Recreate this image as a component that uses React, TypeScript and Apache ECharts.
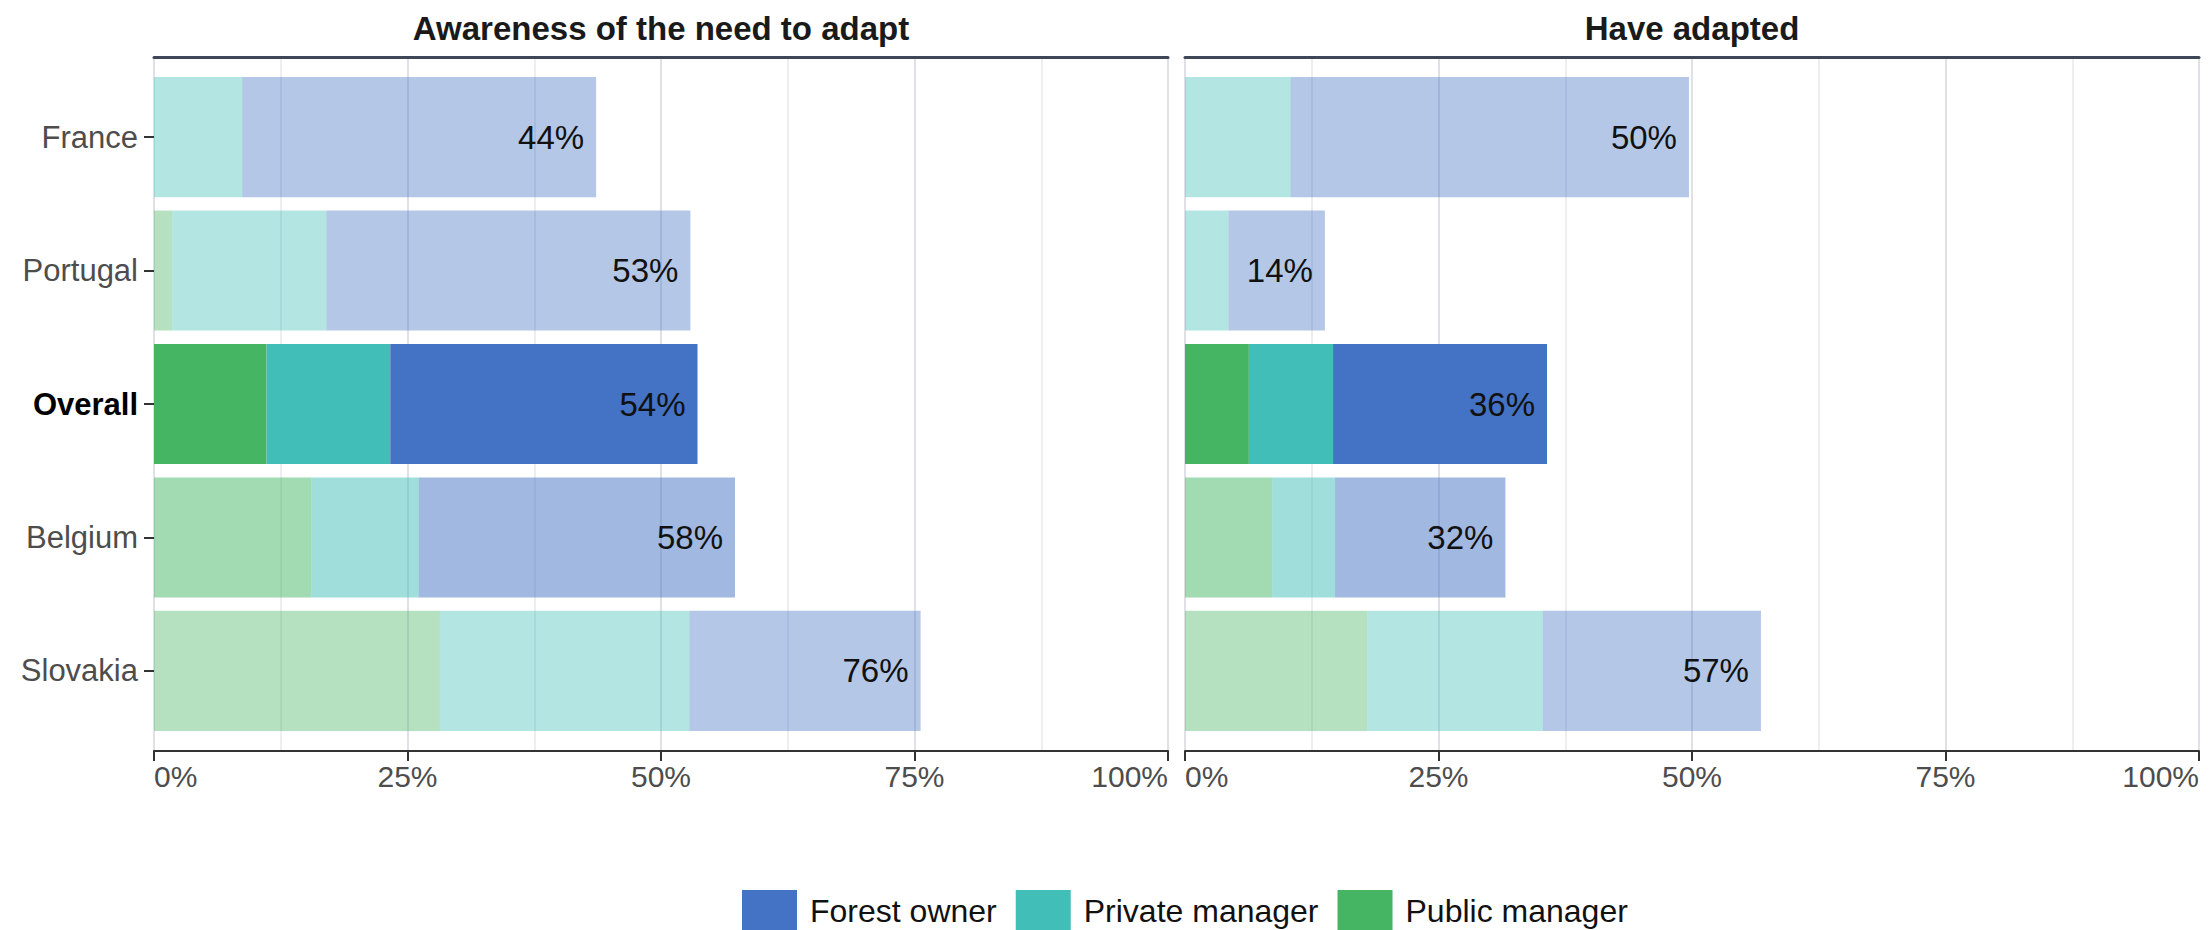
import React, { useEffect, useRef } from "react";
import * as echarts from "echarts";

const countries = ["France", "Portugal", "Overall", "Belgium", "Slovakia"];
const seriesNames = ["Forest owner", "Private manager", "Public manager"];

const awarenessPublic = [0, 1.8, 11.1, 15.5, 28.2];
const awarenessPrivate = [8.7, 15.2, 12.2, 10.6, 24.6];
const awarenessOwner = [34.9, 35.9, 30.3, 31.2, 22.8];
const awarenessLabels = ["44%", "53%", "54%", "58%", "76%"];

const adaptedPublic = [0, 0, 6.3, 8.6, 18.0];
const adaptedPrivate = [10.4, 4.3, 8.3, 6.2, 17.3];
const adaptedOwner = [39.3, 9.5, 21.1, 16.8, 21.5];
const adaptedLabels = ["50%", "14%", "36%", "32%", "57%"];

const xTicks = [0, 25, 50, 75, 100];
const panelTitles = ["Awareness of the need to adapt", "Have adapted"];

// styles
const rowOpacity = [0.4, 0.4, 1, 0.5, 0.4];
const COLORS: Record<string, [number, number, number]> = {
  "Forest owner": [68, 114, 196],
  "Private manager": [65, 190, 184],
  "Public manager": [70, 181, 99],
};
const FONT = "Liberation Sans, Arial, Helvetica, sans-serif";
const rgba = (c: [number, number, number], a: number) => `rgba(${c[0]},${c[1]},${c[2]},${a})`;

export default function App() {
  const ref = useRef<HTMLDivElement>(null);
  useEffect(() => {
    if (!ref.current) return;
    const chart = echarts.init(ref.current, undefined, { renderer: "svg" });

    const panelLeft = [154, 1185];
    const panelWidth = 1014;
    const bgTop = 57;
    const bgHeight = 694;
    const unit = bgHeight / 5.2;
    const barTop = bgTop + 0.6 * unit - unit / 2;
    const barHeight = unit * 5;

    const grids: any[] = [];
    const xAxes: any[] = [];
    const yAxes: any[] = [];
    const series: any[] = [];

    const panels = [
      { pub: awarenessPublic, pri: awarenessPrivate, own: awarenessOwner, labels: awarenessLabels, stack: "aw" },
      { pub: adaptedPublic, pri: adaptedPrivate, own: adaptedOwner, labels: adaptedLabels, stack: "ad" },
    ];

    panels.forEach((p, pi) => {
      const bgGrid = grids.length;
      grids.push({ left: panelLeft[pi], top: bgTop, width: panelWidth, height: bgHeight, containLabel: false });
      const barGrid = grids.length;
      grids.push({ left: panelLeft[pi], top: barTop, width: panelWidth, height: barHeight, containLabel: false });

      xAxes.push({
        type: "value",
        gridIndex: bgGrid,
        position: "bottom",
        min: xTicks[0],
        max: xTicks[xTicks.length - 1],
        interval: 25,
        axisLine: { show: true, lineStyle: { color: "#333333", width: 2 } },
        axisTick: { show: true, length: 10, lineStyle: { color: "#333333", width: 2 } },
        axisLabel: {
          show: true,
          margin: 10,
          fontSize: 30,
          fontFamily: FONT,
          color: "#4d4d4d",
          alignMinLabel: "left",
          alignMaxLabel: "right",
          formatter: (v: number) => v + "%",
        },
        splitLine: { show: true, lineStyle: { color: "#dfe1e6", width: 2 } },
        minorTick: { show: false, splitNumber: 2 },
        minorSplitLine: { show: true, lineStyle: { color: "#e6e8ec", width: 1.5 } },
      });
      xAxes.push({
        type: "value",
        gridIndex: bgGrid,
        position: "top",
        min: 0,
        max: 100,
        axisLine: { show: true, lineStyle: { color: "#3e4757", width: 3 } },
        axisTick: { show: false },
        axisLabel: { show: false },
        splitLine: { show: false },
      });
      yAxes.push({ type: "value", gridIndex: bgGrid, show: false, min: 0, max: 1 });

      const barX = xAxes.length;
      xAxes.push({ type: "value", gridIndex: barGrid, show: false, min: 0, max: 100 });
      const barY = yAxes.length;
      yAxes.push({
        type: "category",
        gridIndex: barGrid,
        data: countries,
        inverse: true,
        axisLine: { show: false },
        axisTick: {
          show: pi === 0,
          alignWithLabel: true,
          length: 10,
          lineStyle: { color: "#333333", width: 2 },
        },
        axisLabel: {
          show: pi === 0,
          margin: 16,
          fontSize: 31,
          fontFamily: FONT,
          color: "#4d4d4d",
          formatter: (v: string) => (v === "Overall" ? `{b|${v}}` : v),
          rich: { b: { fontSize: 31, fontFamily: FONT, fontWeight: "bold", color: "#000000" } },
        },
        splitLine: { show: false },
      });

      const mk = (name: string, values: number[], withLabel: boolean) => ({
        name,
        type: "bar",
        stack: p.stack,
        xAxisIndex: barX,
        yAxisIndex: barY,
        barWidth: "90%",
        itemStyle: { color: rgba(COLORS[name], 1) },
        emphasis: { disabled: true },
        data: values.map((v, i) => ({ value: v, itemStyle: { color: rgba(COLORS[name], rowOpacity[i]) } })),
        label: withLabel
          ? {
              show: true,
              position: "insideRight",
              distance: 12,
              fontSize: 33,
              fontFamily: FONT,
              color: "#111111",
              formatter: (prm: any) => p.labels[prm.dataIndex],
            }
          : { show: false },
      });
      series.push(mk("Public manager", p.pub, false));
      series.push(mk("Private manager", p.pri, false));
      series.push(mk("Forest owner", p.own, true));
    });

    chart.setOption({
      animation: false,
      backgroundColor: "#ffffff",
      grid: grids,
      xAxis: xAxes,
      yAxis: yAxes,
      series,
      legend: {
        data: seriesNames,
        top: 885,
        left: 737,
        icon: "rect",
        itemWidth: 55,
        itemHeight: 42,
        itemGap: 19,
        textStyle: { fontSize: 32, fontFamily: FONT, color: "#111111", padding: [0, 0, 0, 8] },
        selectedMode: false,
      },
      graphic: panelTitles.map((t, i) => ({
        type: "text",
        x: panelLeft[i] + panelWidth / 2,
        y: 28,
        style: {
          text: t,
          font: `bold 33px ${FONT}`,
          fill: "#1a1a1a",
          align: "center",
          verticalAlign: "middle",
        },
      })),
    });

    return () => chart.dispose();
  }, []);

  return (
    <div
      ref={ref}
      style={{ position: "absolute", left: 0, top: 0, width: 2209, height: 930, background: "#fff" }}
    />
  );
}
